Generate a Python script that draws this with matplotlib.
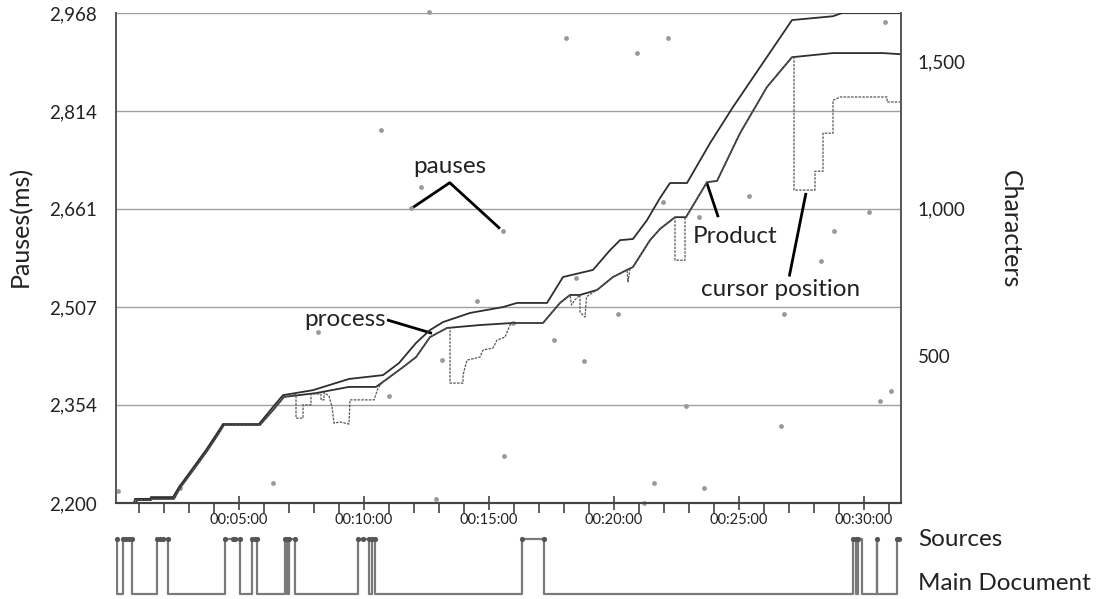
import matplotlib
matplotlib.use("Agg")
import matplotlib.pyplot as plt
from matplotlib.ticker import FuncFormatter, MultipleLocator

plt.rcParams['font.family'] = ['Lato', 'DejaVu Sans']

# time in minutes, characters on the right axis
process_t = [0.08, 0.8, 0.84, 1.44, 1.48, 2.36, 2.6, 3.16, 3.68, 4.08, 4.36, 5.8, 6.36, 6.76,
             7.96, 9.4, 10.76, 11.4, 12.08, 12.64, 13.16, 14.24, 15.56, 16.12, 17.32, 17.96,
             19.16, 19.84, 20.24, 20.76, 21.32, 21.84, 22.24, 22.92, 23.84, 24.76, 25.84,
             27.12, 28.76, 29.12, 31.48]
process_c = [0, 0, 14, 14, 20, 20, 54, 119, 180, 231, 268, 268, 326, 366,
             383, 421, 434, 475, 543, 587, 614, 645, 665, 679, 679, 767,
             791, 858, 892, 896, 960, 1035, 1086, 1086, 1221, 1344, 1479,
             1639, 1652, 1663, 1663]

product_t = [0.08, 0.88, 0.92, 1.48, 1.52, 2.4, 2.64, 3.2, 3.72, 4.12, 4.4, 5.84, 6.4, 6.8,
             8.08, 9.4, 10.48, 10.76, 11.56, 12.08, 12.64, 13.32, 14.64, 15.96, 17.16, 17.84,
             18.24, 18.64, 19.32, 19.96, 20.52, 20.76, 21.44, 21.84, 22.44, 22.88, 23.72,
             24.12, 25.04, 26.12, 27.12, 28.76, 30.76, 31.48]
product_c = [0, 0, 10, 10, 14, 14, 51, 115, 176, 227, 265, 265, 319, 360,
             373, 394, 394, 411, 461, 495, 563, 594, 604, 611, 611, 679,
             706, 706, 723, 767, 791, 801, 892, 930, 970, 970, 1089,
             1093, 1255, 1412, 1513, 1527, 1527, 1523]

cursor_t = [0.08, 0.88, 0.92, 1.48, 1.52, 2.4, 2.64, 3.2, 3.72, 4.12, 4.4, 5.84, 6.4, 6.8,
            7.28, 7.28, 7.56, 7.56, 7.88, 7.88, 8.28, 8.28, 8.4, 8.4, 8.6, 8.72, 8.8, 9.04,
            9.4, 9.44, 10.4, 10.56, 10.76, 11.56, 12.08, 12.64, 13.32, 13.44, 13.44, 13.96,
            13.96, 14.12, 14.64, 14.76, 15.16, 15.32, 15.64, 15.84, 15.96, 17.16, 17.84,
            18.24, 18.3, 18.44, 18.64, 18.64, 18.84, 18.9, 19.32, 19.96, 20.52, 20.56,
            20.64, 20.76, 21.44, 21.84, 22.44, 22.44, 22.84, 22.84, 22.88, 23.72, 24.12,
            25.04, 26.12, 27.12, 27.2, 27.2, 28.04, 28.04, 28.36, 28.36, 28.76, 28.76,
            29.04, 30.92, 30.92, 31.48]
cursor_c = [0, 0, 10, 10, 14, 14, 51, 115, 176, 227, 265, 265, 319, 360,
            368, 288, 288, 333, 333, 370, 370, 350, 350, 375, 363, 326, 271, 275,
            268, 350, 350, 390, 411, 461, 495, 563, 594, 596, 407, 407,
            434, 485, 495, 519, 526, 553, 563, 604, 611, 611, 679,
            706, 672, 690, 706, 648, 631, 700, 723, 767, 791, 750,
            795, 801, 892, 930, 970, 824, 824, 970, 970, 1089, 1093,
            1255, 1412, 1513, 1516, 1062, 1062, 1126, 1126, 1255, 1255, 1367,
            1378, 1378, 1361, 1361]

# pauses (ms) on the left axis
pause_t = [0.16, 2.64, 6.36, 8.16, 11.0, 10.68, 11.88, 12.28, 12.6, 15.56, 14.52, 13.12,
           12.88, 15.6, 15.96, 17.6, 18.8, 18.48, 20.16, 18.08, 20.92, 22.16, 21.96,
           23.4, 25.4, 21.2, 21.6, 22.88, 23.6, 26.68, 26.8, 28.28, 28.8, 30.2, 30.84,
           30.64, 31.08]
pause_ms = [2219, 2224, 2231, 2468, 2368, 2785, 2662, 2695, 2969, 2626, 2517, 2424,
            2206, 2274, 2482, 2456, 2423, 2553, 2496, 2929, 2905, 2929, 2672,
            2648, 2681, 2200, 2231, 2352, 2224, 2321, 2496, 2579, 2626, 2656, 2954,
            2360, 2376]

# source switching: 1 = Sources, 0 = Main Document
switch_t = [0.08, 0.1, 0.12, 0.35, 0.72, 1.71, 2.15, 4.44, 5.04, 5.53, 5.71, 6.85, 6.93,
            6.99, 7.24, 9.77, 10.21, 10.31, 10.45, 16.32, 17.21, 29.57, 29.66, 29.74,
            29.91, 30.51, 30.53, 31.31, 31.48]
switch_state = [1, 1, 0, 1, 0, 1, 0, 1, 0, 1, 0, 1, 0,
                1, 0, 1, 0, 1, 0, 1, 0, 1, 0, 1,
                0, 1, 0, 1, 1]
source_dots = [0.1, 0.35, 0.46, 0.6, 0.72, 1.71, 1.82, 1.95, 2.15, 4.44, 4.75, 4.85, 5.04,
               5.53, 5.62, 5.71, 6.85, 6.93, 7.0, 7.24, 9.77, 9.97, 10.21, 10.31, 10.45,
               16.32, 17.21, 29.57, 29.66, 29.74, 30.52, 31.31, 31.4]

pause_ticks = [2200, 2354, 2507, 2661, 2814, 2968]
pause_labels = ['2,200', '2,354', '2,507', '2,661', '2,814', '2,968']
char_ticks = [500, 1000, 1500]
char_labels = ['500', '1,000', '1,500']

W, H = 1101, 599
fig = plt.figure(figsize=(W / 100, H / 100), dpi=100)

def box(l, t, r, b):
    return [l / W, 1 - b / H, (r - l) / W, (b - t) / H]

ax = fig.add_axes(box(116, 13, 901, 503))
ax2 = ax.twinx()
xmin, xmax = 0.08, 31.48

ax.scatter(pause_t, pause_ms, s=12, color='#999999', zorder=3, clip_on=False, linewidths=0)
ax.set_ylim(2200, 2968)
ax.set_xlim(xmin, xmax)
ax.set_yticks(pause_ticks)
ax.set_yticklabels(pause_labels)
ax.yaxis.grid(True, color='#a0a0a0', linewidth=1)
ax.set_axisbelow(True)
ax.tick_params(axis='y', length=0, pad=14, labelsize=13.5, labelcolor='#222222')

ax2.plot(process_t, process_c, color='#2e2e2e', linewidth=1.3)
ax2.plot(product_t, product_c, color='#2e2e2e', linewidth=1.3)
ax2.plot(cursor_t, cursor_c, color='#555555', linewidth=0.9, linestyle=(0, (2, 1)))
ax2.set_ylim(0, 1663)
ax2.set_yticks(char_ticks)
ax2.set_yticklabels(char_labels)
ax2.tick_params(axis='y', length=0, pad=12, labelsize=13.5, labelcolor='#222222')

ax.xaxis.set_major_locator(MultipleLocator(5))
ax.xaxis.set_minor_locator(MultipleLocator(1))
ax.xaxis.set_major_formatter(FuncFormatter(lambda v, p: '00:%02d:00' % int(round(v))))
ax.tick_params(axis='x', which='major', direction='inout', length=10, width=1.2,
               color='#444444', labelsize=10.5, pad=2, labelcolor='#222222')
ax.tick_params(axis='x', which='minor', direction='out', length=7, width=1.2, color='#444444')

for a in (ax, ax2):
    a.spines['top'].set_visible(False)
    a.spines['left'].set_color('#555555')
    a.spines['right'].set_color('#555555')
    a.spines['bottom'].set_color('#444444')
    a.spines['left'].set_linewidth(1.2)
    a.spines['right'].set_linewidth(1.2)
    a.spines['bottom'].set_linewidth(1.5)

fig.text(20 / W, 1 - 226 / H, 'Pauses(ms)', rotation=90, ha='center', va='center',
         fontsize=18, color='#222222')
fig.text(1010 / W, 1 - 229 / H, 'Characters', rotation=270, ha='center', va='center',
         fontsize=18, color='#222222')

# annotations (left-axis data coordinates)
txt = dict(ha='center', va='center', fontsize=17.5, color='#222222')
line_kw = dict(color='black', linewidth=2, solid_capstyle='butt')
ax.text(13.44, 2727, 'pauses', **txt)
ax.plot([11.91, 13.43, 15.44], [2662, 2702, 2630], **line_kw)
ax.text(9.24, 2488, 'process', **txt)
ax.plot([10.92, 12.72], [2487, 2466], **line_kw)
ax.text(24.84, 2617, 'Product', **txt)
ax.plot([23.71, 24.17], [2702, 2648], **line_kw)
ax.text(26.68, 2534, 'cursor position', **txt)
ax.plot([27.68, 27.01], [2686, 2555], **line_kw)

# source timeline strip
axs = fig.add_axes(box(116, 533, 901, 597))
axs.step(switch_t, switch_state, where='post', color='#7a7a7a', linewidth=1.6)
axs.scatter(source_dots, [1] * len(source_dots), s=14, color='#555555', zorder=3,
            clip_on=False, linewidths=0)
axs.set_xlim(xmin, xmax)
axs.set_ylim(-0.055, 1.11)
axs.axis('off')
fig.text(918 / W, 1 - 540 / H, 'Sources', ha='left', va='center', fontsize=17.5,
         color='#222222')
fig.text(918 / W, 1 - 584 / H, 'Main Document', ha='left', va='center', fontsize=17.5,
         color='#222222')

fig.savefig('out.png', dpi=100)
